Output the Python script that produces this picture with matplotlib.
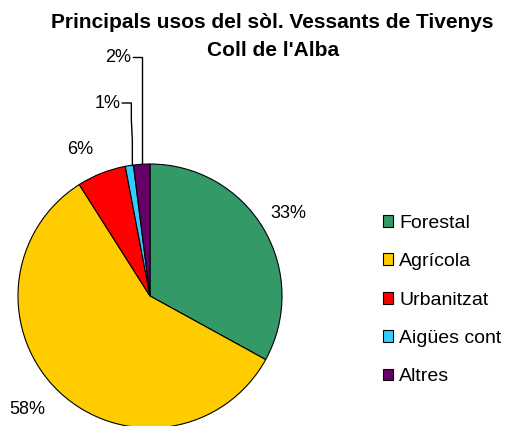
import numpy as np
import matplotlib
matplotlib.use("Agg")
import matplotlib.pyplot as plt
from matplotlib.patches import Patch

plt.rcParams['font.family'] = ['Liberation Sans', 'DejaVu Sans']

categories = ['Forestal', 'Agrícola', 'Urbanitzat', 'Aigües cont', 'Altres']
values = [33, 58, 6, 1, 2]
colors = ['#339966', '#FFCC00', '#FF0000', '#33CCFF', '#660066']

W, H = 529, 426
fig = plt.figure(figsize=(W / 100, H / 100), dpi=100)
ax = fig.add_axes([0, 0, 1, 1])

cx, cy, r = 150, H - 296, 132
wedges, _ = ax.pie(values, colors=colors, startangle=90, counterclock=False,
                   center=(cx, cy), radius=r, frame=True,
                   wedgeprops=dict(edgecolor='black', linewidth=0.8))
ax.set_xlim(0, W)
ax.set_ylim(0, H)
ax.set_aspect('equal')
ax.axis('off')

# angle of each slice centre (degrees, matplotlib convention)
total = sum(values)
cum = np.cumsum([0] + values[:-1])
mids = [90 - 360 * (c + v / 2) / total for c, v in zip(cum, values)]

def edge(i):
    a = np.radians(mids[i])
    return cx + r * np.cos(a), cy + r * np.sin(a)

fs = 13
# outer labels
ax.text(288, H - 213, '33%', fontsize=fs, ha='center', va='center')
ax.text(27, H - 410, '58%', fontsize=fs, ha='center', va='center')
ax.text(80, H - 150, '6%', fontsize=fs, ha='center', va='center')

# leader lines for small slices
x2, y2 = edge(4)
ax.plot([x2, x2, x2 - 9], [y2, H - 57, H - 57], color='black', lw=1)
ax.text(x2 - 11, H - 57, '2%', fontsize=fs, ha='right', va='center')
x1, y1 = edge(3)
ax.plot([x1 + 3, x1 + 3, x1 + 2, x1 + 2, x1 - 7],
        [y1, H - 140, H - 120, H - 103, H - 103], color='black', lw=1)
ax.text(x1 - 9, H - 103, '1%', fontsize=fs, ha='right', va='center')

fig.text(272 / W, 1 - 22 / H, 'Principals usos del sòl. Vessants de Tivenys',
         fontsize=15, fontweight='bold', ha='center', va='center')
fig.text(273 / W, 1 - 50 / H, "Coll de l'Alba",
         fontsize=15, fontweight='bold', ha='center', va='center')

handles = [Patch(facecolor=c, edgecolor='black', linewidth=0.8) for c in colors]
ax.legend(handles, categories, loc='upper left', bbox_to_anchor=(375 / W, 1 - 207 / H),
          bbox_transform=fig.transFigure, frameon=False, fontsize=14,
          handlelength=0.55, handleheight=0.55, handletextpad=0.3, labelspacing=1.1,
          borderaxespad=0)

fig.savefig('out.png', dpi=100)
